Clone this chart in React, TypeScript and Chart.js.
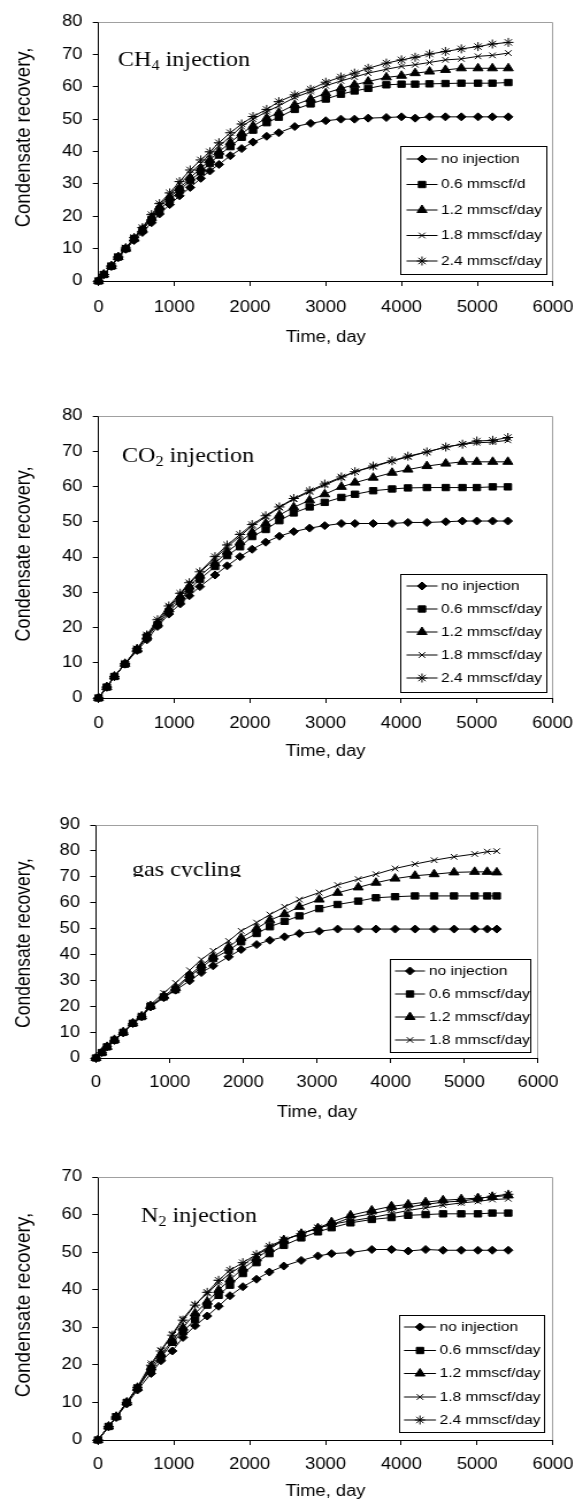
import React, { useEffect, useRef } from 'react';
import { Chart, registerables } from 'chart.js';
import { drawPoint } from 'chart.js/helpers';

Chart.register(...registerables);

// ---------------- DATA ----------------
const X_TICKS = [0, 1000, 2000, 3000, 4000, 5000, 6000];
const Y_TICKS_80 = [0, 10, 20, 30, 40, 50, 60, 70, 80];
const Y_TICKS_90 = [0, 10, 20, 30, 40, 50, 60, 70, 80, 90];
const Y_TICKS_70 = [0, 10, 20, 30, 40, 50, 60, 70];

const ch4Labels = ['no injection', '0.6 mmscf/d', '1.2 mmscf/day', '1.8 mmscf/day', '2.4 mmscf/day'];
const co2Labels = ['no injection', '0.6 mmscf/day', '1.2 mmscf/day', '1.8 mmscf/day', '2.4 mmscf/day'];
const gasLabels = ['no injection', '0.6 mmscf/day', '1.2 mmscf/day', '1.8 mmscf/day'];
const n2Labels = ['no injection', '0.6 mmscf/day', '1.2 mmscf/day', '1.8 mmscf/day', '2.4 mmscf/day'];

// CH4 injection
const ch4Time = [0, 70, 170, 260, 360, 470, 580, 700, 805, 940, 1070, 1210, 1350, 1470, 1590, 1740, 1890, 2040, 2220, 2380, 2590, 2800, 3000, 3200, 3380, 3560, 3800, 4000, 4180, 4370, 4580, 4790, 5010, 5200, 5410];
const ch4NoInj = [0, 2, 4.5, 7.2, 9.8, 12.5, 15, 18, 20.7, 23.6, 26.3, 28.9, 31.7, 34, 36, 38.7, 40.9, 42.9, 44.7, 45.8, 47.7, 48.7, 49.5, 50, 50, 50.3, 50.5, 50.7, 50.3, 50.7, 50.7, 50.7, 50.7, 50.7, 50.7];
const ch4Q06 = [0, 2, 4.6, 7.4, 10, 13.1, 15.7, 19, 22, 25, 28, 31, 33.7, 36.3, 38.9, 41.5, 44.4, 46.6, 48.9, 50.6, 53, 54.7, 56.2, 57.7, 58.7, 59.5, 60.6, 60.8, 60.8, 60.9, 61, 61.1, 61.1, 61.1, 61.3];
const ch4Q12 = [0, 2, 4.6, 7.4, 10, 13.1, 15.9, 19.5, 22.9, 25.8, 28.6, 31.9, 34.8, 37.4, 39.9, 42.8, 45.6, 47.9, 50.3, 52, 54.4, 56.2, 58, 59.5, 60.6, 61.6, 62.9, 63.4, 64.2, 64.7, 65.2, 65.7, 65.7, 65.7, 65.7];
const ch4Q18 = [0, 2, 4.6, 7.4, 10.1, 13.3, 16.2, 20, 23.4, 26.5, 29.9, 33.2, 36.3, 39.2, 41.7, 44.6, 47.7, 50, 52.3, 54.1, 56.7, 58.5, 60.3, 61.8, 63, 64.2, 65.4, 66.3, 66.8, 67.5, 68.3, 68.6, 69.4, 69.7, 70.4];
const ch4Q24 = [0, 2, 4.7, 7.5, 10.2, 13.4, 16.5, 20.5, 23.9, 27.2, 30.7, 34.3, 37.4, 39.9, 42.7, 45.8, 48.5, 50.8, 53, 55.4, 57.5, 59.2, 61.4, 63, 64.2, 65.7, 67.3, 68.3, 69.1, 70.1, 70.9, 71.7, 72.4, 73.2, 73.7];

// CO2 injection
const co2Time = [0, 110, 210, 350, 510, 640, 780, 930, 1080, 1200, 1340, 1540, 1700, 1870, 2030, 2210, 2390, 2580, 2790, 2990, 3210, 3390, 3630, 3880, 4090, 4340, 4590, 4810, 5000, 5210, 5410];
const co2NoInj = [0, 3.1, 6.1, 9.6, 13.5, 16.5, 20.3, 23.8, 26.7, 29, 31.6, 34.9, 37.5, 40.1, 42.2, 44.2, 45.9, 47.2, 48.2, 48.9, 49.5, 49.5, 49.5, 49.5, 49.8, 49.8, 50, 50.2, 50.2, 50.2, 50.2];
const co2Q06 = [0, 3.1, 6.1, 9.6, 13.7, 17.3, 20.8, 24.5, 27.8, 30.8, 33.7, 37.3, 40.4, 42.9, 45.8, 47.8, 50.3, 52.5, 54.2, 55.5, 56.9, 57.8, 58.8, 59.3, 59.6, 59.7, 59.7, 59.7, 59.7, 59.9, 59.9];
const co2Q12 = [0, 3.1, 6.1, 9.7, 13.8, 17.5, 21.2, 25.2, 28.8, 31.6, 34.7, 38.2, 41.5, 44.2, 47, 49.5, 51.9, 54.1, 56.1, 57.8, 59.9, 61.1, 62.5, 63.9, 64.8, 65.8, 66.5, 67, 67, 67, 67];
const co2Q18 = [0, 3.1, 6.1, 9.7, 13.9, 17.7, 21.7, 25.8, 29.2, 32.4, 35.6, 39.6, 42.9, 45.9, 48.8, 51.4, 54, 56.4, 58.5, 60.4, 62.5, 64.2, 65.6, 67.2, 68.4, 69.8, 71.2, 72, 72.4, 72.6, 73.1];
const co2Q24 = [0, 3.1, 6.1, 9.8, 14, 17.9, 22.2, 26.1, 29.7, 32.7, 35.8, 40.1, 43.4, 46.4, 49.2, 51.7, 54.2, 56.6, 58.8, 60.7, 62.7, 64.2, 65.8, 67.3, 68.6, 69.8, 71.2, 72, 72.9, 73.1, 73.9];

// gas cycling
const gasTime = [0, 80, 150, 250, 370, 500, 620, 740, 920, 1080, 1270, 1430, 1590, 1800, 1970, 2180, 2360, 2560, 2760, 3030, 3280, 3560, 3800, 4060, 4330, 4590, 4860, 5140, 5310, 5440];
const gasNoInj = [0, 2.1, 4.3, 6.8, 9.7, 13.3, 15.9, 19.7, 23.3, 26.2, 29.8, 33, 35.6, 39.1, 41.9, 43.8, 45.5, 46.8, 48.1, 49, 49.8, 49.8, 49.8, 49.8, 49.8, 49.8, 49.8, 49.8, 49.8, 49.8];
const gasQ06 = [0, 2.1, 4.3, 6.9, 9.9, 13.4, 16, 20, 23.6, 26.4, 31.6, 34.9, 38.4, 41.6, 44.9, 48.1, 50.7, 52.8, 54.9, 57.7, 59.3, 60.6, 61.9, 62.3, 62.6, 62.6, 62.6, 62.6, 62.6, 62.6];
const gasQ12 = [0, 2.1, 4.3, 7, 10, 13.4, 16.1, 20.1, 24, 27.1, 32, 35.8, 39.1, 42.9, 46.4, 50, 53.2, 55.6, 58.4, 61.2, 63.8, 65.9, 67.7, 69.3, 70.4, 71, 71.7, 71.9, 71.9, 71.7];
const gasQ18 = [0, 2.1, 4.4, 7.1, 10.1, 13.6, 16.4, 20.6, 25.1, 29, 33.9, 38, 41.4, 45.2, 49.1, 52.3, 55.4, 58.4, 61.2, 63.9, 66.8, 69.1, 71, 73.2, 74.9, 76.4, 77.7, 78.8, 79.7, 79.9];

// N2 injection
const n2Time = [0, 140, 240, 380, 520, 700, 830, 980, 1120, 1280, 1440, 1590, 1740, 1910, 2090, 2260, 2450, 2680, 2900, 3080, 3330, 3610, 3870, 4090, 4320, 4550, 4790, 5010, 5200, 5410];
const n2NoInj = [0, 3.5, 6, 9.6, 13.3, 17.7, 21.1, 23.7, 27.3, 30.4, 33, 35.6, 38.4, 40.8, 42.8, 44.7, 46.3, 47.8, 49, 49.6, 49.9, 50.7, 50.7, 50.3, 50.7, 50.5, 50.5, 50.5, 50.5, 50.5];
const n2Q06 = [0, 3.6, 6.2, 10, 13.8, 18.8, 21.9, 26, 28.8, 32.1, 35.9, 38.5, 41.2, 44.3, 47.2, 49.6, 51.8, 53.8, 55.4, 56.5, 57.8, 58.7, 59.2, 59.8, 60, 60.2, 60.2, 60.2, 60.4, 60.4];
const n2Q12 = [0, 3.6, 6.2, 10, 13.9, 19.3, 22.8, 26.4, 29.9, 33.7, 36.8, 39.9, 42.7, 45.6, 48.3, 50.8, 53.2, 54.9, 56.4, 58, 59.8, 61.1, 62.2, 62.7, 63.3, 63.8, 64.1, 64.4, 64.7, 65.1];
const n2Q18 = [0, 3.6, 6.2, 10.1, 14.1, 20.4, 23.9, 28.2, 32.3, 36.1, 39, 41.9, 44.3, 46.5, 49.2, 51.2, 53.2, 54.9, 56.4, 57.4, 58.3, 59.2, 60.2, 61.1, 61.8, 62.5, 63.1, 63.5, 64, 64.2];
const n2Q24 = [0, 3.6, 6.2, 10, 14, 19.9, 23.7, 27.9, 31.9, 35.9, 39.3, 42.5, 45.2, 47.2, 49.4, 51.6, 53.3, 54.9, 56.5, 57.3, 59.2, 60.2, 61.3, 62, 62.7, 63.3, 63.6, 64.2, 64.9, 65.4];

// ---------------- STYLE / LAYOUT ----------------
const MARKERS = ['rectRot', 'rect', 'triangle', 'crossRot', 'star'];
const RADII = [4, 4.5, 5, 4, 4.5];
const S = 1.15; // horizontal stretch of the original figure
const CW = 540; // internal canvas width
const ix = (px: number) => px / S;
const SANS = '"Liberation Sans", Arial, sans-serif';
const SERIF = '"Liberation Serif", "Times New Roman", serif';

type Spec = {
  top: number; height: number;
  plot: { l: number; r: number; t: number; b: number };
  xLabelY: number; xTitleY: number;
  yMax: number; yTicks: number[];
  time: number[]; series: number[][]; labels: string[];
  yTitleY: number; yTitleSize: number;
  title: { x: number; base: number; main: string; sub: string; rest: string; clip?: boolean };
  legend: { l: number; r: number; t: number; b: number; rows: number[]; lineL: number; lineR: number; textX: number };
};

const SPECS: Spec[] = [
  {
    top: 0, height: 370,
    plot: { l: 98.5, r: 553, t: 22, b: 281 }, xLabelY: 308, xTitleY: 338,
    yMax: 80, yTicks: Y_TICKS_80,
    time: ch4Time, series: [ch4NoInj, ch4Q06, ch4Q12, ch4Q18, ch4Q24], labels: ch4Labels,
    yTitleY: 137.5, yTitleSize: 18.5,
    title: { x: 118, base: 66, main: 'CH', sub: '4', rest: ' injection' },
    legend: { l: 400, r: 546, t: 146, b: 274, rows: [159, 184.5, 210, 235.5, 261], lineL: 406.5, lineR: 437.5, textX: 441 },
  },
  {
    top: 370, height: 395,
    plot: { l: 98.5, r: 552.5, t: 416, b: 698 }, xLabelY: 724, xTitleY: 752,
    yMax: 80, yTicks: Y_TICKS_80,
    time: co2Time, series: [co2NoInj, co2Q06, co2Q12, co2Q18, co2Q24], labels: co2Labels,
    yTitleY: 554, yTitleSize: 18,
    title: { x: 122, base: 462, main: 'CO', sub: '2', rest: ' injection' },
    legend: { l: 400, r: 546, t: 574, b: 692, rows: [586, 609, 632, 655, 678], lineL: 406.5, lineR: 437.5, textX: 441 },
  },
  {
    top: 765, height: 375,
    plot: { l: 96, r: 538, t: 825, b: 1058 }, xLabelY: 1083, xTitleY: 1113,
    yMax: 90, yTicks: Y_TICKS_90,
    time: gasTime, series: [gasNoInj, gasQ06, gasQ12, gasQ18], labels: gasLabels,
    yTitleY: 943, yTitleSize: 17.5,
    title: { x: 132, base: 876, main: 'gas cycling', sub: '', rest: '', clip: true },
    legend: { l: 389.5, r: 530.5, t: 959, b: 1052, rows: [971, 994, 1017, 1040], lineL: 395, lineR: 425, textX: 429 },
  },
  {
    top: 1140, height: 362,
    plot: { l: 98, r: 553, t: 1177, b: 1440 }, xLabelY: 1465, xTitleY: 1492,
    yMax: 70, yTicks: Y_TICKS_70,
    time: n2Time, series: [n2NoInj, n2Q06, n2Q12, n2Q18, n2Q24], labels: n2Labels,
    yTitleY: 1305, yTitleSize: 19,
    title: { x: 141, base: 1222, main: 'N', sub: '2', rest: ' injection' },
    legend: { l: 398.5, r: 544, t: 1315, b: 1432, rows: [1327, 1350.5, 1373.5, 1397, 1420], lineL: 404, lineR: 436, textX: 439.5 },
  },
];

const TICK_FONT = 16;
const TICK_LEN = 5;

function makeConfig(spec: Spec): any {
  const H = spec.height;
  const off = spec.top;
  const pl = ix(spec.plot.l);
  const pr = ix(spec.plot.r);
  const pt = spec.plot.t - off;
  const pb = spec.plot.b - off;
  const lh = TICK_FONT * 1.2;
  const xPad = spec.xLabelY - spec.plot.b - TICK_LEN - lh / 2;
  const yPad = pl - ix(spec.plot.l - 16) - TICK_LEN;

  const datasets = spec.series.map((vals, i) => ({
    label: spec.labels[i],
    data: spec.time.map((t, j) => ({ x: t, y: vals[j] })),
    borderColor: '#000',
    backgroundColor: '#000',
    borderWidth: 1,
    pointStyle: MARKERS[i],
    pointRadius: RADII[i],
    pointBorderWidth: 1,
    pointBackgroundColor: '#000',
    pointBorderColor: '#000',
    tension: 0,
    clip: false,
  }));

  const decor = {
    id: 'decor',
    beforeDatasetsDraw(chart: any) {
      const { ctx, chartArea: a } = chart;
      ctx.save();
      ctx.strokeStyle = '#a0a0a0';
      ctx.lineWidth = 1;
      const t = Math.round(a.top - 0.5) + 0.5;
      const r = Math.round(a.right - 0.5) + 0.5;
      ctx.beginPath();
      ctx.moveTo(a.left, t);
      ctx.lineTo(r, t);
      ctx.lineTo(r, a.bottom);
      ctx.stroke();
      ctx.restore();
    },
    afterDraw(chart: any) {
      const ctx = chart.ctx as CanvasRenderingContext2D;
      // legend
      const L = spec.legend;
      ctx.save();
      const lx = Math.round(ix(L.l)) + 0.5;
      const rx = Math.round(ix(L.r)) + 0.5;
      const ty = Math.round(L.t - off) + 0.5;
      const by = Math.round(L.b - off) + 0.5;
      ctx.fillStyle = '#fff';
      ctx.fillRect(lx, ty, rx - lx, by - ty);
      ctx.strokeStyle = '#000';
      ctx.lineWidth = 1;
      ctx.strokeRect(lx, ty, rx - lx, by - ty);
      ctx.font = `13.5px ${SANS}`;
      ctx.textBaseline = 'middle';
      ctx.textAlign = 'left';
      spec.labels.forEach((lab, i) => {
        const y = L.rows[i] - off;
        ctx.strokeStyle = '#000';
        ctx.fillStyle = '#000';
        ctx.lineWidth = 1;
        ctx.beginPath();
        ctx.moveTo(ix(L.lineL), y);
        ctx.lineTo(ix(L.lineR), y);
        ctx.stroke();
        drawPoint(ctx, { pointStyle: MARKERS[i] as any, rotation: 0, radius: RADII[i], borderWidth: 1 }, ix((L.lineL + L.lineR) / 2), y);
        ctx.fillStyle = '#000';
        ctx.fillText(lab, ix(L.textX), y);
      });
      ctx.restore();

      // y axis title
      ctx.save();
      ctx.translate(ix(24), spec.yTitleY - off);
      ctx.rotate(-Math.PI / 2);
      ctx.font = `${spec.yTitleSize}px ${SANS}`;
      ctx.fillStyle = '#000';
      ctx.textAlign = 'center';
      ctx.textBaseline = 'middle';
      ctx.fillText('Condensate recovery,', 0, 0);
      ctx.restore();

      // annotation title
      const T = spec.title;
      ctx.save();
      const base = T.base - off;
      if (T.clip) {
        ctx.beginPath();
        ctx.rect(0, 0, CW, base + 1);
        ctx.clip();
      }
      ctx.fillStyle = '#000';
      ctx.textAlign = 'left';
      ctx.textBaseline = 'alphabetic';
      let x = ix(T.x);
      ctx.font = `21px ${SERIF}`;
      ctx.fillText(T.main, x, base);
      x += ctx.measureText(T.main).width;
      if (T.sub) {
        ctx.font = `14px ${SERIF}`;
        ctx.fillText(T.sub, x, base + 4);
        x += ctx.measureText(T.sub).width;
      }
      if (T.rest) {
        ctx.font = `21px ${SERIF}`;
        ctx.fillText(T.rest, x, base);
      }
      ctx.restore();
    },
  };

  return {
    type: 'line',
    data: { datasets },
    plugins: [decor],
    options: {
      animation: false,
      responsive: false,
      events: [],
      layout: { padding: { left: 0, top: pt, right: CW - pr, bottom: 0 } },
      plugins: { legend: { display: false }, tooltip: { enabled: false } },
      scales: {
        x: {
          type: 'linear',
          min: 0,
          max: 6000,
          afterBuildTicks: (s: any) => { s.ticks = X_TICKS.map((v) => ({ value: v })); },
          afterFit: (s: any) => { s.height = H - pb; s.paddingLeft = 0; s.paddingRight = 0; },
          ticks: { font: { size: TICK_FONT, family: SANS }, color: '#000', padding: xPad, maxRotation: 0, autoSkip: false, callback: (v: any) => String(v) },
          grid: { drawOnChartArea: false, drawTicks: true, tickLength: TICK_LEN, tickColor: '#000', color: '#000' },
          border: { display: true, color: '#000', width: 1 },
          title: { display: true, text: 'Time, day', color: '#000', font: { size: 16, family: SANS }, padding: { top: 0, bottom: H - (spec.xTitleY - off) - 9.6 } },
        },
        y: {
          type: 'linear',
          min: 0,
          max: spec.yMax,
          afterBuildTicks: (s: any) => { s.ticks = spec.yTicks.map((v) => ({ value: v })); },
          afterFit: (s: any) => { s.width = pl; s.paddingTop = 0; s.paddingBottom = 0; },
          ticks: { font: { size: TICK_FONT, family: SANS }, color: '#000', padding: yPad, autoSkip: false, callback: (v: any) => String(v) },
          grid: { drawOnChartArea: false, drawTicks: true, tickLength: TICK_LEN, tickColor: '#000', color: '#000' },
          border: { display: true, color: '#000', width: 1 },
        },
      },
    },
  };
}

function Panel({ spec }: { spec: Spec }) {
  const ref = useRef<HTMLCanvasElement | null>(null);
  useEffect(() => {
    if (!ref.current) return;
    const chart = new Chart(ref.current, makeConfig(spec));
    return () => chart.destroy();
  }, [spec]);
  return (
    <canvas
      ref={ref}
      width={CW}
      height={spec.height}
      style={{ position: 'absolute', left: 0, top: spec.top, width: CW * S, height: spec.height }}
    />
  );
}

export default function App() {
  return (
    <div style={{ position: 'absolute', left: 0, top: 0, width: 574, height: 1502, overflow: 'hidden', background: '#fff' }}>
      {SPECS.map((s, i) => (
        <Panel key={i} spec={s} />
      ))}
    </div>
  );
}
